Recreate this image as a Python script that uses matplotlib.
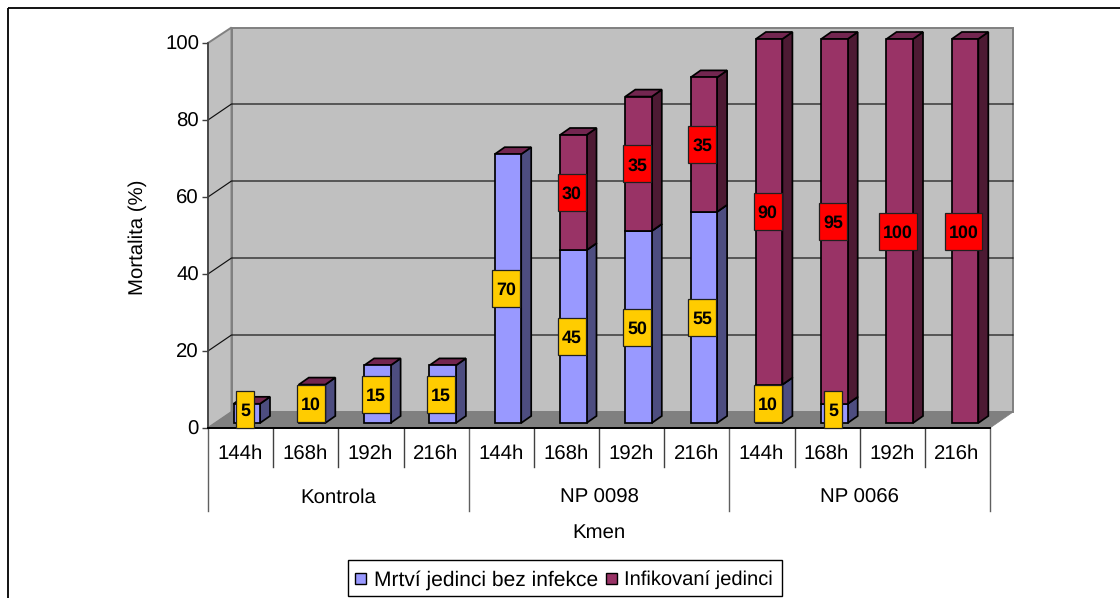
import matplotlib
matplotlib.use("Agg")
import matplotlib.pyplot as plt
from matplotlib.patches import Polygon, Rectangle

plt.rcParams["font.family"] = ["Liberation Sans", "DejaVu Sans"]
plt.rcParams["text.hinting"] = "no_hinting"

hours = ["144h", "168h", "192h", "216h"] * 3
strains = ["Kontrola", "NP 0098", "NP 0066"]
dead_uninfected = [5, 10, 15, 15, 70, 45, 50, 55, 10, 5, 0, 0]
infected = [0, 0, 0, 0, 0, 30, 35, 35, 90, 95, 100, 100]
y_ticks = [0, 20, 40, 60, 80, 100]
series_names = ["Mrtví jedinci bez infekce", "Infikovaní jedinci"]

W, H = 1120, 598
BLUE, BLUE_SIDE = "#9999FF", "#4D4D80"
PLUM, PLUM_TOP, PLUM_SIDE = "#993366", "#732650", "#4D1A33"
WALL, FLOOR = "#C0C0C0", "#808080"
FS = 14.7
FS_VALUE = 12.9


def box(x0, top, x1, bottom):
    """Axes rectangle from pixel edges measured from the top-left corner."""
    return [x0 / W, 1 - bottom / H, (x1 - x0) / W, (bottom - top) / H]


fig = plt.figure(figsize=(W / 100, H / 100), dpi=100, facecolor="white")
page = fig.add_axes([0, 0, 1, 1], xlim=(0, W), ylim=(H, 0))
page.axis("off")

# Chart frame runs past the right and bottom edges of the canvas
page.add_patch(Rectangle((7.8, 8.3), W, H, fc="none", ec="black", lw=1.3))

# Back wall, side wall and floor of the 3D box
page.add_patch(Polygon([(231.5, 27.5), (1013, 27.5), (1013, 412), (231.5, 412)],
                       fc=WALL, ec="#808080", lw=1.4))
page.add_patch(Polygon([(208, 43), (231.5, 27.5), (231.5, 412), (208, 428)],
                       fc=WALL, ec="#808080", lw=1.4))
page.add_patch(Polygon([(208, 428), (231.5, 412), (1013, 412), (990, 428)],
                       fc=FLOOR, ec=FLOOR, lw=0.5))

# Value axis with ticks and the slanted gridlines that climb onto the wall
ax = fig.add_axes(box(208, 43, 990, 428), xlim=(0, 12), ylim=(0, 100))
ax.patch.set_alpha(0)
for side in ("top", "right"):
    ax.spines[side].set_visible(False)
ax.spines["left"].set_color("#404040")
ax.spines["left"].set_linewidth(1.2)
ax.spines["bottom"].set_linewidth(1.4)
ax.set_xticks([])
ax.set_yticks(y_ticks)
ax.tick_params(axis="y", length=4, width=1, color="#404040", pad=2.5, labelsize=FS)
page.text(138, 237.5, "Mortalita (%)", rotation=90, ha="center", va="center", fontsize=FS)
for v in y_ticks[1:-1]:
    py = 428 - 385 * v / 100
    page.plot([208, 231.5, 1013], [py, py - 16, py - 16], color="#101010", lw=0.85, zorder=2)

# Bars share a plane set slightly behind the front of the floor
SPACING = 65.3
bars = fig.add_axes(box(208, 39, 208 + 12 * SPACING, 423), xlim=(0, 12), ylim=(0, 100))
bars.axis("off")
PX_Y = 3.84
DX, DY = 10 / SPACING, 7 / PX_Y
LEFT, WIDTH = 25.5 / SPACING, 26.5 / SPACING
BOX_H = 37 / PX_Y
BOX_W = {1: 18 / SPACING, 2: 28 / SPACING, 3: 37.5 / SPACING}


def column(i, low, high, face, top, side, z):
    x0, x1 = i + LEFT, i + LEFT + WIDTH
    kw = dict(ec="black", lw=1.25, joinstyle="miter", zorder=z, clip_on=False)
    bars.add_patch(Polygon([(x1, low), (x1 + DX, low + DY), (x1 + DX, high + DY), (x1, high)],
                           fc=side, **kw))
    bars.add_patch(Polygon([(x0, high), (x1, high), (x1 + DX, high + DY), (x0 + DX, high + DY)],
                           fc=top, **kw))
    bars.add_patch(Rectangle((x0, low), WIDTH, high - low, fc=face, **kw))


def value_label(i, centre, value, colour):
    xc = i + LEFT + WIDTH / 2 - 1.5 / SPACING
    w = BOX_W[len(str(value))]
    # Small segments push their box upward so it stays on the floor edge
    yc = max(centre, BOX_H / 2 - 5 / PX_Y)
    bars.add_patch(Rectangle((xc - w / 2, yc - BOX_H / 2), w, BOX_H, fc=colour,
                             ec="#202020", lw=0.9, zorder=6, clip_on=False))
    bars.text(xc, yc, str(value), ha="center", va="center_baseline", fontsize=FS_VALUE,
              fontweight="bold", color="black", zorder=7, clip_on=False)


for i, (d, n) in enumerate(zip(dead_uninfected, infected)):
    if d:
        column(i, 0, d, BLUE, BLUE_SIDE if n else PLUM_TOP, BLUE_SIDE, 3 + i * 0.01)
    if n:
        column(i, d, d + n, PLUM, PLUM_TOP, PLUM_SIDE, 3.5 + i * 0.01)

# Value labels sit on boxes centred on each stacked segment
for i, (d, n) in enumerate(zip(dead_uninfected, infected)):
    if d:
        value_label(i, d / 2, d, "#FFCC00")
    if n:
        value_label(i, d + n / 2, n, "#FF0000")

# Two-level category axis beneath the floor
cat_w = 782 / 12
for i, label in enumerate(hours):
    page.text(208 + cat_w * (i + 0.5) - 0.5, 452, label, ha="center", va="center_baseline", fontsize=FS)
for i in range(13):
    page.plot([208 + cat_w * i] * 2, [428, 511 if i % 4 == 0 else 467],
              color="#404040" if i % 4 else "#606060", lw=1)
for g, name in enumerate(strains):
    page.text(208 + cat_w * (4 * g + 2), 496, name, ha="center", va="center_baseline", fontsize=FS)
page.text(599, 531, "Kmen", ha="center", va="center_baseline", fontsize=FS)

# Legend box
page.add_patch(Rectangle((347.5, 559.5), 434.5, 36.5, fc="white", ec="black", lw=1))
for x, colour, name, size in [(355, BLUE, series_names[0], 15.1), (605.5, PLUM, series_names[1], 14.5)]:
    page.add_patch(Rectangle((x, 572.5), 11, 11, fc=colour, ec="black", lw=1))
    page.text(x + 18.5, 577.5, name, ha="left", va="center_baseline", fontsize=size)

fig.savefig("out.png", dpi=100)
